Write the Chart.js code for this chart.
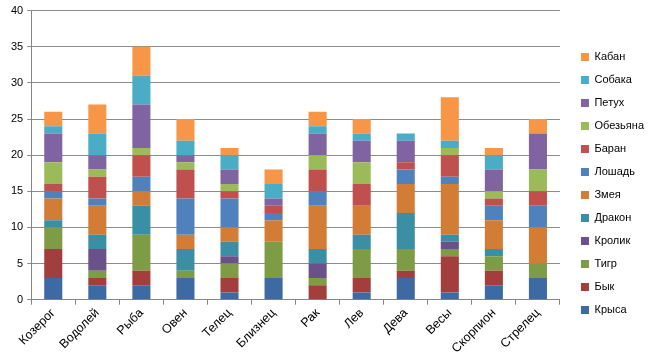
<!DOCTYPE html>
<html>
<head>
<meta charset="utf-8">
<script src="https://cdn.jsdelivr.net/npm/chart.js@4/dist/chart.umd.min.js"></script>
<style>
  html, body { margin: 0; padding: 0; background: #fff; }
  #wrap { width: 654px; height: 363px; }
</style>
</head>
<body>
<div id="wrap"><canvas id="zodiac"></canvas></div>
<script>
const signs = ['Козерог', 'Водолей', 'Рыба', 'Овен', 'Телец', 'Близнец', 'Рак', 'Лев', 'Дева', 'Весы', 'Скорпион', 'Стрелец'];

const rat     = [3, 2, 2, 3, 1, 3, 0, 1, 3, 1, 2, 3];
const ox      = [4, 1, 2, 0, 2, 0, 2, 2, 1, 5, 2, 0];
const tiger   = [3, 1, 5, 1, 2, 5, 1, 4, 3, 1, 2, 2];
const rabbit  = [0, 3, 0, 0, 1, 0, 2, 0, 0, 1, 0, 0];
const dragon  = [1, 2, 4, 3, 2, 0, 2, 2, 5, 1, 1, 0];
const snake   = [3, 4, 2, 2, 2, 3, 6, 4, 4, 7, 4, 5];
const horse   = [1, 1, 2, 5, 4, 1, 2, 0, 2, 1, 2, 3];
const goat    = [1, 3, 3, 4, 1, 1, 3, 3, 1, 3, 1, 2];
const monkey  = [3, 1, 1, 1, 1, 0, 2, 3, 0, 1, 1, 3];
const rooster = [4, 2, 6, 1, 2, 1, 3, 3, 3, 0, 3, 5];
const dog     = [1, 3, 4, 2, 2, 2, 1, 1, 1, 1, 2, 0];
const boar    = [2, 4, 4, 3, 1, 2, 2, 2, 0, 6, 1, 2];

const yTicks = [0, 5, 10, 15, 20, 25, 30, 35, 40];

// bottom to top of each stack
const series = [
    ['Крыса', rat, '#3E6AA3'],
    ['Бык', ox, '#A23F3C'],
    ['Тигр', tiger, '#7E9B46'],
    ['Кролик', rabbit, '#6A5189'],
    ['Дракон', dragon, '#3A8FA5'],
    ['Змея', snake, '#D27C35'],
    ['Лошадь', horse, '#4F81BD'],
    ['Баран', goat, '#C0504D'],
    ['Обезьяна', monkey, '#9BBB59'],
    ['Петух', rooster, '#8064A2'],
    ['Собака', dog, '#4BACC6'],
    ['Кабан', boar, '#F79646']
];

Chart.defaults.font.family = '"Liberation Sans", Arial, sans-serif';
Chart.defaults.font.size = 11;
Chart.defaults.color = '#000';

// widen the legend so the plot stops where the original one does,
// then nudge the legend items right into the freed space
const legendGap = {
    id: 'legendGap',
    beforeInit(chart) {
        const fit = chart.legend.fit;
        chart.legend.fit = function () {
            fit.bind(chart.legend)();
            this.width += 5;
        };
    },
    afterLayout(chart) {
        chart.legend.left += 9;
    }
};

const ctx = document.getElementById('zodiac').getContext('2d');

new Chart(ctx, {
    type: 'bar',
    data: {
        labels: signs,
        datasets: series.map(([name, values, color]) => ({
            label: name,
            data: values,
            backgroundColor: color,
            borderWidth: 0,
            barPercentage: 0.41,
            categoryPercentage: 1
        }))
    },
    plugins: [legendGap],
    options: {
        responsive: true,
        maintainAspectRatio: false,
        animation: false,
        layout: { padding: { top: 10, right: 4, left: 7, bottom: 6 } },
        plugins: {
            tooltip: { enabled: false },
            legend: {
                position: 'right',
                reverse: true,
                labels: {
                    boxWidth: 8,
                    boxHeight: 8,
                    padding: 12,
                    color: '#000'
                }
            }
        },
        scales: {
            x: {
                stacked: true,
                grid: {
                    drawOnChartArea: false,
                    drawTicks: true,
                    tickLength: 5,
                    color: '#868686'
                },
                border: { color: '#868686' },
                ticks: {
                    maxRotation: 45,
                    minRotation: 45,
                    padding: 1,
                    font: { size: 12.5 }
                }
            },
            y: {
                stacked: true,
                min: 0,
                max: 40,
                afterBuildTicks: axis => {
                    axis.ticks = yTicks.map(v => ({ value: v }));
                },
                grid: {
                    color: '#8C8C8C',
                    tickLength: 4
                },
                border: { color: '#868686' },
                ticks: { padding: 4 }
            }
        }
    }
});
</script>
</body>
</html>
